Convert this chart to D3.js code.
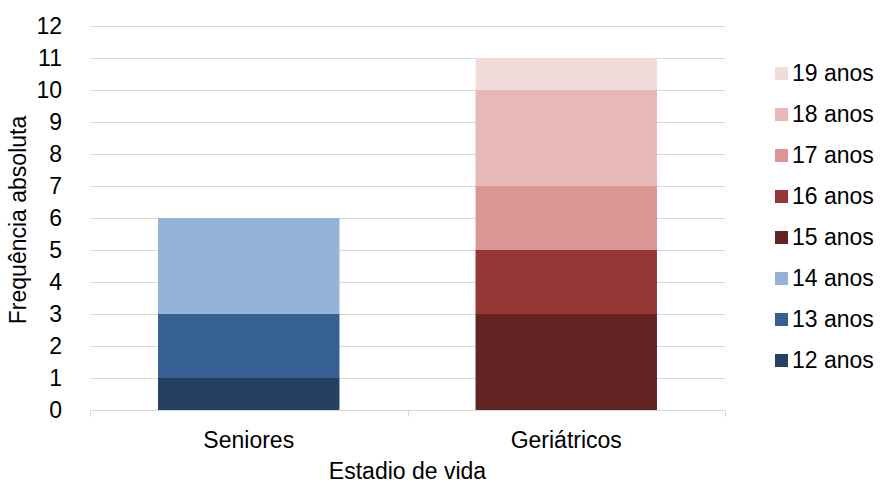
<!DOCTYPE html>
<html>
<head>
<meta charset="utf-8">
<style>
  body { margin: 0; background: #fff; }
  text { font-family: "Liberation Sans", Arial, sans-serif; fill: #000; }
</style>
</head>
<body>
<div id="chart"></div>
<script src="https://cdn.jsdelivr.net/npm/d3@7"></script>
<script>
// categories and series (one series per age, stacked)
var categories = ["Seniores", "Geriátricos"];
var ages = ["12 anos", "13 anos", "14 anos", "15 anos", "16 anos", "17 anos", "18 anos", "19 anos"];
var values12 = [1, 0];
var values13 = [2, 0];
var values14 = [3, 0];
var values15 = [0, 3];
var values16 = [0, 2];
var values17 = [0, 2];
var values18 = [0, 3];
var values19 = [0, 1];
var yTicks = [0, 1, 2, 3, 4, 5, 6, 7, 8, 9, 10, 11, 12];
var colors = ["#254061", "#376092", "#95b3d7", "#632523", "#953735", "#d99694", "#e6b9b8", "#f2dcdb"];

var series = [values12, values13, values14, values15, values16, values17, values18, values19];
var rows = categories.map(function(c, i) {
  var r = { cat: c };
  ages.forEach(function(a, k) { r[a] = series[k][i]; });
  return r;
});

const width = 880, height = 484;
const fontSize = 23;
const plot = { left: 90, right: 725, top: 26, bottom: 410 };

const svg = d3.select("#chart").append("svg")
  .attr("width", width)
  .attr("height", height);

const x = d3.scaleBand().domain(categories).range([plot.left, plot.right]).padding(0);
const y = d3.scaleLinear().domain([0, 12]).range([plot.bottom, plot.top]);

// gridlines
svg.append("g").selectAll("line")
  .data(yTicks.filter(function(d) { return d > 0; }))
  .enter().append("line")
  .attr("x1", plot.left).attr("x2", plot.right)
  .attr("y1", function(d) { return Math.round(y(d)) + 0.5; })
  .attr("y2", function(d) { return Math.round(y(d)) + 0.5; })
  .style("stroke", "#d9d9d9")
  .style("stroke-width", 1);

// y tick labels
svg.append("g").selectAll("text")
  .data(yTicks)
  .enter().append("text")
  .attr("x", 62)
  .attr("y", function(d) { return y(d); })
  .attr("dy", "0.35em")
  .attr("text-anchor", "end")
  .style("font-size", fontSize + "px")
  .text(function(d) { return d; });

// stacked bars
const stack = d3.stack().keys(ages)(rows);
const barW = x.bandwidth() / 1.75;
svg.append("g").selectAll("g")
  .data(stack)
  .enter().append("g")
  .style("fill", function(d, i) { return colors[i]; })
  .selectAll("rect")
  .data(function(d) { return d; })
  .enter().append("rect")
  .attr("x", function(d) { return x(d.data.cat) + (x.bandwidth() - barW) / 2; })
  .attr("width", barW)
  .attr("y", function(d) { return y(d[1]); })
  .attr("height", function(d) { return y(d[0]) - y(d[1]); });

// x axis
const xAxis = svg.append("g")
  .attr("transform", "translate(0," + (plot.bottom + 0.5) + ")");
xAxis.append("line")
  .attr("x1", plot.left).attr("x2", plot.right)
  .style("stroke", "#d9d9d9");
xAxis.selectAll(".tick")
  .data([plot.left, plot.left + x.step(), plot.right])
  .enter().append("line")
  .attr("x1", function(d) { return Math.round(d) + 0.5; })
  .attr("x2", function(d) { return Math.round(d) + 0.5; })
  .attr("y1", 0).attr("y2", 6)
  .style("stroke", "#d9d9d9");
xAxis.selectAll("text")
  .data(categories)
  .enter().append("text")
  .attr("x", function(d) { return x(d) + x.bandwidth() / 2; })
  .attr("y", 37)
  .attr("text-anchor", "middle")
  .style("font-size", fontSize + "px")
  .text(function(d) { return d; });

// axis titles
svg.append("text")
  .attr("x", (plot.left + plot.right) / 2)
  .attr("y", 479)
  .attr("text-anchor", "middle")
  .style("font-size", fontSize + "px")
  .text("Estadio de vida");

svg.append("text")
  .attr("transform", "translate(26," + 220 + ") rotate(-90)")
  .attr("text-anchor", "middle")
  .style("font-size", fontSize + "px")
  .text("Frequência absoluta");

// legend, top entry = last series
const legend = svg.append("g").attr("transform", "translate(775,73)");
const items = legend.selectAll("g")
  .data(ages.slice().reverse())
  .enter().append("g")
  .attr("transform", function(d, i) { return "translate(0," + (i * 41) + ")"; });
items.append("rect")
  .attr("x", 0).attr("y", -6)
  .attr("width", 13).attr("height", 13)
  .style("fill", function(d) { return colors[ages.indexOf(d)]; });
items.append("text")
  .attr("x", 17)
  .attr("y", 0)
  .attr("dy", "0.35em")
  .style("font-size", fontSize + "px")
  .text(function(d) { return d; });
</script>
</body>
</html>
